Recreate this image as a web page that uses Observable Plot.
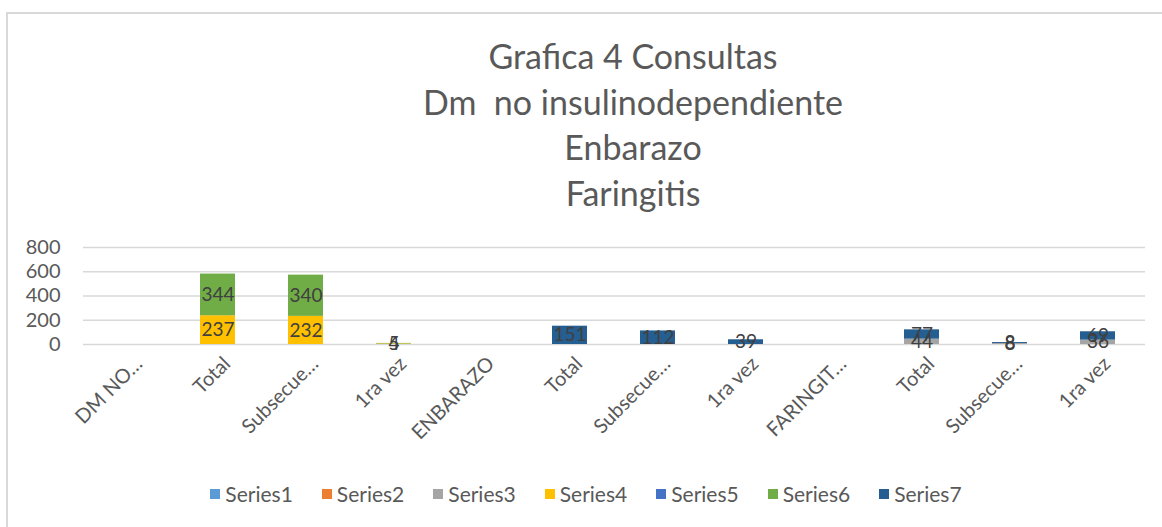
<!DOCTYPE html>
<html><head><meta charset="utf-8">
<script src="https://cdn.jsdelivr.net/npm/d3@7"></script>
<script src="https://cdn.jsdelivr.net/npm/@observablehq/plot@0.6"></script>
<style>
body{margin:0;background:#fff;font-family:Lato,"Open Sans",sans-serif;}
#page{position:relative;width:1162px;height:527px;overflow:hidden;}
#frame{position:absolute;left:6px;top:12px;width:1200px;height:560px;border-left:2px solid #d9d9d9;border-top:2px solid #d9d9d9;}
#title{position:absolute;left:104px;top:33px;width:1058px;text-align:center;color:#595959;font-size:34px;line-height:45.7px;}
#chart{position:absolute;left:0;top:230px;}
#legend{position:absolute;left:0;top:481px;width:1172px;display:flex;justify-content:center;gap:29px;color:#595959;font-size:21px;}
#legend span.item{display:flex;align-items:center;gap:5px;}
#legend span.sw{display:inline-block;width:10px;height:10px;}
</style></head>
<body>
<div id="page">
<div id="frame"></div>
<div id="title"></div>
<div id="chart"></div>
<div id="legend"></div>
</div>
<script>
const titleLines = ["Grafica 4 Consultas", "Dm\u00a0 no insulinodependiente", "Enbarazo", "Faringitis"];
const categories = ["DM NO…","Total","Subsecue…","1ra vez","ENBARAZO","Total","Subsecue…","1ra vez","FARINGIT…","Total","Subsecue…","1ra vez"];
const seriesNames = ["Series1","Series2","Series3","Series4","Series5","Series6","Series7"];
const seriesColors = ["#5B9BD5","#ED7D31","#A5A5A5","#FFC000","#4472C4","#70AD47","#255E91"];
const series1 = [0,0,0,0,0,0,0,0,0,0,0,0];
const series2 = [0,0,0,0,0,0,0,0,0,0,0,0];
const series3 = [0,0,0,0,0,0,0,0,0,44,8,36];
const series4 = [0,237,232,5,0,0,0,0,0,0,0,0];
const series5 = [0,0,0,0,0,0,0,0,0,0,0,0];
const series6 = [0,344,340,4,0,0,0,0,0,0,0,0];
const series7 = [0,0,0,0,0,151,112,39,0,77,8,69];
const yTicks = [0,200,400,600,800];

const allSeries = [series1,series2,series3,series4,series5,series6,series7];
const rows = [];
allSeries.forEach((vals, s) => vals.forEach((v, i) => { if (v > 0) rows.push({i, series: seriesNames[s], value: v}); }));

document.getElementById("title").innerHTML = titleLines.map(t => `<div>${t}</div>`).join("");

const idx = d3.range(categories.length);
const chart = Plot.plot({
  width: 1162, height: 240,
  marginLeft: 83, marginRight: 17, marginTop: 17, marginBottom: 126,
  style: {fontFamily: "Lato, 'Open Sans', sans-serif", color: "#595959", background: "transparent"},
  x: {type: "band", domain: idx, paddingInner: 0.6, paddingOuter: 0.3, axis: null},
  y: {domain: [0, 800], ticks: yTicks, label: null, axis: null},
  color: {domain: seriesNames, range: seriesColors},
  marks: [
    Plot.gridY(yTicks, {stroke: "#d9d9d9", strokeOpacity: 1, strokeWidth: 1.5}),
    Plot.text(yTicks, {y: d => d, frameAnchor: "left", dx: -23, textAnchor: "end", text: d => String(d), fontSize: 20, fill: "#595959"}),
    Plot.barY(rows, Plot.stackY({x: "i", y: "value", fill: "series", z: "series"})),
    Plot.text(rows, Plot.stackY({x: "i", y: "value", z: "series", text: d => String(d.value), fill: "#404040", fontSize: 19})),
    Plot.text(idx, {x: d => d, y: () => 0, text: d => categories[d], rotate: -45, textAnchor: "end", dx: 9, dy: 16, fontSize: 20, fill: "#595959"})
  ]
});
document.getElementById("chart").appendChild(chart);

document.getElementById("legend").innerHTML = seriesNames.map((n, k) =>
  `<span class="item"><span class="sw" style="background:${seriesColors[k]}"></span>${n}</span>`).join("");
</script>
</body></html>
